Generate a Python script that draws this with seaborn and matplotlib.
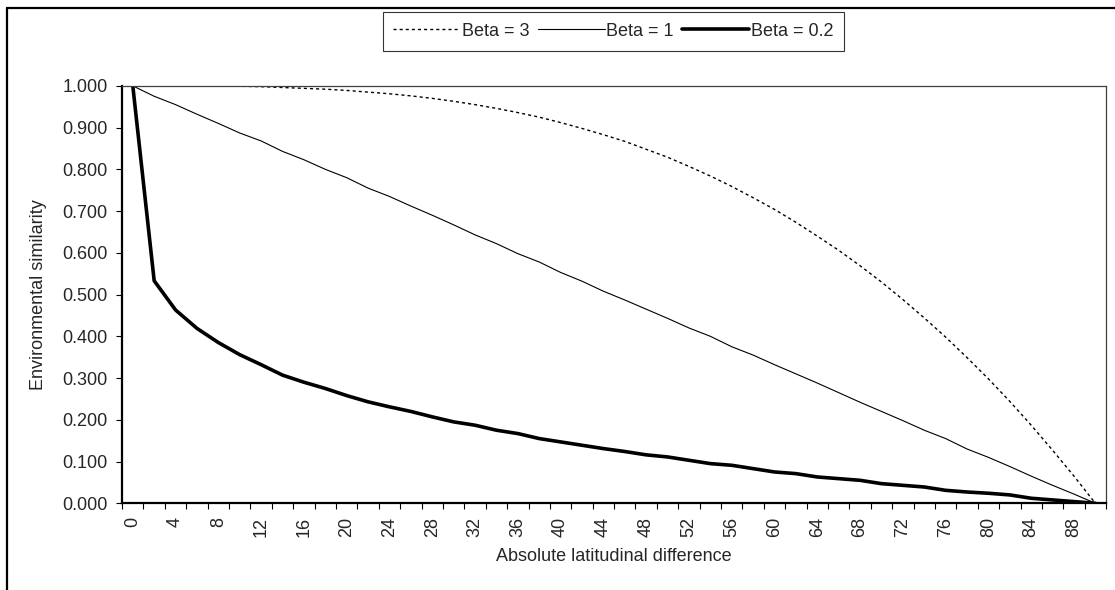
import numpy as np
import pandas as pd
import matplotlib
matplotlib.use("Agg")
import matplotlib.pyplot as plt
from matplotlib.lines import Line2D
import seaborn as sns

# Data
lat_diff = list(range(0, 91, 2))

beta_3 = [1.000, 1.000, 1.000, 1.000, 0.999, 0.999, 0.998, 0.996, 0.994, 0.992,
          0.989, 0.985, 0.981, 0.976, 0.970, 0.963, 0.955, 0.946, 0.936, 0.925,
          0.912, 0.898, 0.883, 0.867, 0.848, 0.829, 0.807, 0.784, 0.759, 0.732,
          0.704, 0.673, 0.640, 0.606, 0.569, 0.530, 0.488, 0.444, 0.398, 0.349,
          0.298, 0.244, 0.187, 0.127, 0.065, 0.000]

beta_1 = [1.000, 0.975, 0.955, 0.932, 0.910, 0.887, 0.868, 0.843, 0.823, 0.800,
          0.780, 0.755, 0.735, 0.712, 0.690, 0.667, 0.643, 0.622, 0.598, 0.578,
          0.553, 0.532, 0.508, 0.487, 0.465, 0.443, 0.420, 0.400, 0.375, 0.355,
          0.332, 0.310, 0.288, 0.265, 0.242, 0.220, 0.198, 0.175, 0.155, 0.130,
          0.110, 0.088, 0.065, 0.043, 0.022, 0.000]

beta_02 = [1.000, 0.533, 0.463, 0.419, 0.385, 0.356, 0.332, 0.307, 0.290, 0.275,
           0.258, 0.243, 0.231, 0.220, 0.207, 0.195, 0.187, 0.175, 0.167, 0.155,
           0.147, 0.139, 0.131, 0.124, 0.116, 0.111, 0.103, 0.095, 0.091, 0.083,
           0.075, 0.071, 0.063, 0.059, 0.055, 0.047, 0.043, 0.039, 0.031, 0.027,
           0.024, 0.020, 0.012, 0.008, 0.004, 0.000]

sns.set_style("white")
plt.rcParams["font.family"] = ["Liberation Sans", "DejaVu Sans"]
FS = 13

# category axis: one slot per latitude value
pos = np.arange(len(lat_diff))
df = pd.DataFrame({"pos": pos, "Beta = 3": beta_3, "Beta = 1": beta_1, "Beta = 0.2": beta_02})

fig = plt.figure(figsize=(11.15, 5.9), dpi=100)
ax = fig.add_axes([0.1095, 0.147, 0.8825, 0.7075])

sns.lineplot(data=df, x="pos", y="Beta = 3", ax=ax, color="black", linewidth=1.0,
             label="Beta = 3")
ax.lines[-1].set_dashes((2.2, 2.2))
sns.lineplot(data=df, x="pos", y="Beta = 1", ax=ax, color="black", linewidth=0.8,
             label="Beta = 1")
sns.lineplot(data=df, x="pos", y="Beta = 0.2", ax=ax, color="black", linewidth=2.6,
             label="Beta = 0.2")

ax.set_xlim(-0.5, len(lat_diff) - 0.5)
ax.set_ylim(0, 1.0)

# y axis
yt = np.arange(0, 1.01, 0.1)
ax.set_yticks(yt)
ax.set_yticklabels([f"{v:.3f}" for v in yt], fontsize=FS)

# x axis: tick marks between categories, labels every other category
ax.set_xticks(np.arange(-0.5, len(lat_diff), 1.0))
ax.set_xticklabels([])
ax.set_xticks(pos[::2], minor=True)
ax.set_xticklabels([str(v) for v in lat_diff[::2]], minor=True, rotation=90, fontsize=FS)
ax.tick_params(axis="x", which="minor", length=0, pad=10)
ax.tick_params(axis="both", which="major", direction="out", length=4, width=0.8,
               color="black", left=True, bottom=True)
ax.tick_params(axis="y", which="major", pad=6.5)

ax.set_xlabel("Absolute latitudinal difference", fontsize=FS)
ax.set_ylabel("Environmental similarity", fontsize=FS)
ax.xaxis.set_label_coords(0.5, -0.108)
ax.yaxis.set_label_coords(-0.076, 0.5)

for side in ["left", "bottom"]:
    ax.spines[side].set_color("black")
    ax.spines[side].set_linewidth(1.6)
for side in ["top", "right"]:
    ax.spines[side].set_color("#404040")
    ax.spines[side].set_linewidth(0.9)

leg = ax.legend(loc="center", bbox_to_anchor=(0.55, 0.947), bbox_transform=fig.transFigure,
                ncol=3, frameon=True, fancybox=False, fontsize=FS, handlelength=3.7,
                handletextpad=0.1, columnspacing=0.45, borderpad=0.6, borderaxespad=0)
leg.get_frame().set_edgecolor("black")
leg.get_frame().set_linewidth(0.8)

# outer chart frame (only top and left edges fall inside the image)
fig.add_artist(Line2D([7 / 1115, 1.0], [1 - 8 / 590, 1 - 8 / 590], color="black", linewidth=1.6))
fig.add_artist(Line2D([7 / 1115, 7 / 1115], [0.0, 1 - 8 / 590], color="black", linewidth=1.6))

fig.savefig("out.png", dpi=100)
plt.close(fig)
